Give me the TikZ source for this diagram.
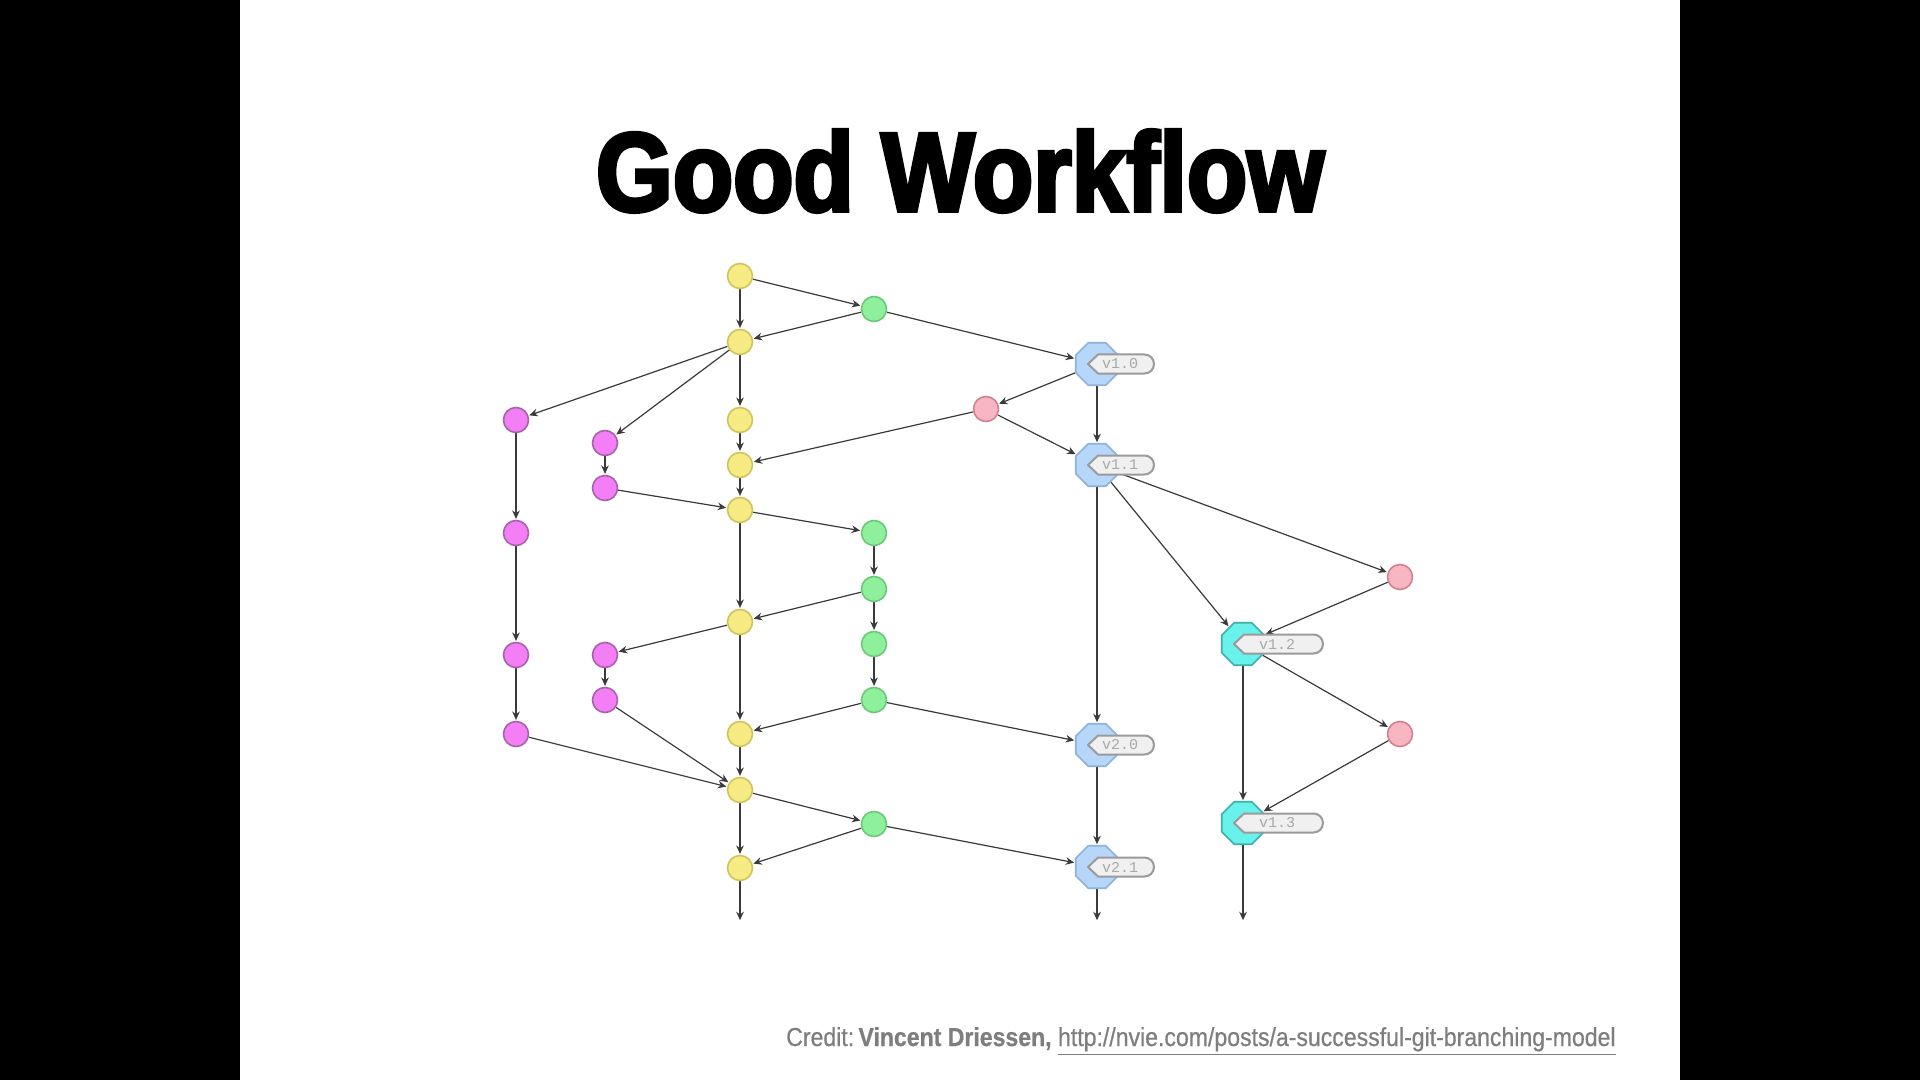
\documentclass[tikz,border=0pt]{standalone}
\usepackage{fontspec}
\setmainfont{Liberation Sans}
\newfontfamily\titlefont{Liberation Sans}[FakeBold=3.5,FakeStretch=0.882]
\newfontfamily\creditfont{Liberation Sans}[FakeBold=0.6,FakeStretch=0.887]
\newfontfamily\tagfont{Liberation Mono}
\usetikzlibrary{shapes.geometric,arrows.meta}
\definecolor{yfill}{HTML}{F6EA82}\definecolor{ydraw}{HTML}{CFC45C}
\definecolor{gfill}{HTML}{8EF09A}\definecolor{gdraw}{HTML}{6CC879}
\definecolor{pfill}{HTML}{F47EF6}\definecolor{pdraw}{HTML}{A861AC}
\definecolor{kfill}{HTML}{F8B5C2}\definecolor{kdraw}{HTML}{D0808F}
\definecolor{bfill}{HTML}{B6D6FA}\definecolor{bdraw}{HTML}{8EB2DB}
\definecolor{cfill}{HTML}{69F2EC}\definecolor{cdraw}{HTML}{3DB0AB}
\definecolor{tagfill}{HTML}{F0F0F0}\definecolor{tagdraw}{HTML}{9A9A9A}
\definecolor{tagtxt}{HTML}{A8A8A8}\definecolor{credit}{HTML}{7E7E7E}
\definecolor{edgecol}{HTML}{3A3A3A}
\pgfdeclarelayer{bg}
\pgfdeclarelayer{edges}
\pgfsetlayers{bg,edges,main}
\tikzset{
  commit/.style={circle,minimum size=12.5pt,inner sep=0pt,line width=0.8pt},
  ycommit/.style={commit,fill=yfill,draw=ydraw},
  gcommit/.style={commit,fill=gfill,draw=gdraw},
  pcommit/.style={commit,fill=pfill,draw=pdraw},
  kcommit/.style={commit,fill=kfill,draw=kdraw},
  release/.style={regular polygon,regular polygon sides=8,minimum size=23pt,inner sep=0pt,line width=0.8pt},
  brelease/.style={release,fill=bfill,draw=bdraw},
  crelease/.style={release,fill=cfill,draw=cdraw},
  edge/.style={draw=edgecol,line width=0.6pt,-{Stealth[length=4.2pt,width=3.8pt]},shorten >=0.4pt},
  tagshape/.style={fill=tagfill,draw=tagdraw,line width=1pt,line join=round},
  tagtext/.style={font=\tagfont\fontsize{7.5pt}{8pt}\selectfont,text=tagtxt,inner sep=0pt}
}
% #1 node, #2 text, #3 right end offset (px), #4 text centre offset (px)
\newcommand\gittag[4]{%
  \draw[tagshape] ([shift={(-9,0)}]#1.center) -- ++(10,-9.5) -- ([shift={(#3-9.5,-9.5)}]#1.center)
    arc[start angle=90,end angle=-90,radius=4.75pt] -- ([shift={(1,9.5)}]#1.center) -- cycle;
  \node[tagtext] (#1txt) at ([shift={(#4,0)}]#1.center) {#2};}
\begin{document}
\begin{tikzpicture}[x=0.5pt,y=-0.5pt]
\begin{pgfonlayer}{bg}
\fill[black] (0,0) rectangle (1920,1080);
\fill[white] (240,0) rectangle (1680,1080);
\end{pgfonlayer}
\useasboundingbox (0,0) rectangle (1920,1080);

\node[anchor=base,inner sep=0pt,font=\titlefont\bfseries\fontsize{56pt}{60pt}\selectfont] (title) at (960,211) {Good Workflow};

% develop (yellow)
\node[ycommit] (y1) at (740,276) {};
\node[ycommit] (y2) at (740,342) {};
\node[ycommit] (y3) at (740,420) {};
\node[ycommit] (y4) at (740,465) {};
\node[ycommit] (y5) at (740,510) {};
\node[ycommit] (y6) at (740,622) {};
\node[ycommit] (y7) at (740,734) {};
\node[ycommit] (y8) at (740,790) {};
\node[ycommit] (y9) at (740,868) {};
% release branches (green)
\node[gcommit] (g1) at (874,309) {};
\node[gcommit] (g2) at (874,533) {};
\node[gcommit] (g3) at (874,589) {};
\node[gcommit] (g4) at (874,644) {};
\node[gcommit] (g5) at (874,700) {};
\node[gcommit] (g6) at (874,824) {};
% feature branches (purple)
\node[pcommit] (pa1) at (516,420) {};
\node[pcommit] (pa2) at (516,533) {};
\node[pcommit] (pa3) at (516,655) {};
\node[pcommit] (pa4) at (516,734) {};
\node[pcommit] (pb1) at (605,443) {};
\node[pcommit] (pb2) at (605,488) {};
\node[pcommit] (pb3) at (605,655) {};
\node[pcommit] (pb4) at (605,700) {};
% hotfixes (pink)
\node[kcommit] (k1) at (986,409) {};
\node[kcommit] (k2) at (1400,577) {};
\node[kcommit] (k3) at (1400,734) {};
% master (blue) and support (cyan)
\node[brelease] (b1) at (1097,364) {};
\node[brelease] (b2) at (1097,465) {};
\node[brelease] (b3) at (1097,745) {};
\node[brelease] (b4) at (1097,867) {};
\node[crelease] (c1) at (1243,644) {};
\node[crelease] (c2) at (1243,823) {};
% free ends
\coordinate (ey) at (740,921);
\coordinate (eb) at (1097,921);
\coordinate (ec) at (1243,921);

\begin{pgfonlayer}{edges}
\draw[edge] (y1) -- (y2);
\draw[edge] (y2) -- (y3);
\draw[edge] (y3) -- (y4);
\draw[edge] (y4) -- (y5);
\draw[edge] (y5) -- (y6);
\draw[edge] (y6) -- (y7);
\draw[edge] (y7) -- (y8);
\draw[edge] (y8) -- (y9);
\draw[edge] (y9) -- (ey);
\draw[edge] (y1) -- (g1);
\draw[edge] (g1) -- (y2);
\draw[edge] (g1) -- (b1);
\draw[edge] (y2) -- (pa1);
\draw[edge] (y2) -- (pb1);
\draw[edge] (pb1) -- (pb2);
\draw[edge] (pb2) -- (y5);
\draw[edge] (b1) -- (k1);
\draw[edge] (k1) -- (y4);
\draw[edge] (k1) -- (b2);
\draw[edge] (b1) -- (b2);
\draw[edge] (y5) -- (g2);
\draw[edge] (g2) -- (g3);
\draw[edge] (g3) -- (y6);
\draw[edge] (g3) -- (g4);
\draw[edge] (g4) -- (g5);
\draw[edge] (g5) -- (y7);
\draw[edge] (g5) -- (b3);
\draw[edge] (y6) -- (pb3);
\draw[edge] (pb3) -- (pb4);
\draw[edge] (pb4) -- (y8);
\draw[edge] (pa1) -- (pa2);
\draw[edge] (pa2) -- (pa3);
\draw[edge] (pa3) -- (pa4);
\draw[edge] (pa4) -- (y8);
\draw[edge] (y8) -- (g6);
\draw[edge] (g6) -- (y9);
\draw[edge] (g6) -- (b4);
\draw[edge] (b2) -- (b3);
\draw[edge] (b3) -- (b4);
\draw[edge] (b4) -- (eb);
\draw[edge] (b2) -- (c1);
\draw[edge] (b2) -- (k2);
\draw[edge] (k2) -- (c1);
\draw[edge] (c1) -- (k3);
\draw[edge] (c1) -- (c2);
\draw[edge] (k3) -- (c2);
\draw[edge] (c2) -- (ec);
\end{pgfonlayer}

\gittag{b1}{v1.0}{57}{23}
\gittag{b2}{v1.1}{57}{23}
\gittag{b3}{v2.0}{57}{23}
\gittag{b4}{v2.1}{57}{23}
\gittag{c1}{v1.2}{80}{34}
\gittag{c2}{v1.3}{80}{34}

\node[anchor=base east,inner sep=0pt,text=credit,font=\creditfont\fontsize{13pt}{15pt}\selectfont] (credit) at (1616,1046)
  {Credit:\,\textbf{Vincent Driessen,} \underline{http://nvie.com/posts/a-successful-git-branching-model}};
\end{tikzpicture}
\end{document}
